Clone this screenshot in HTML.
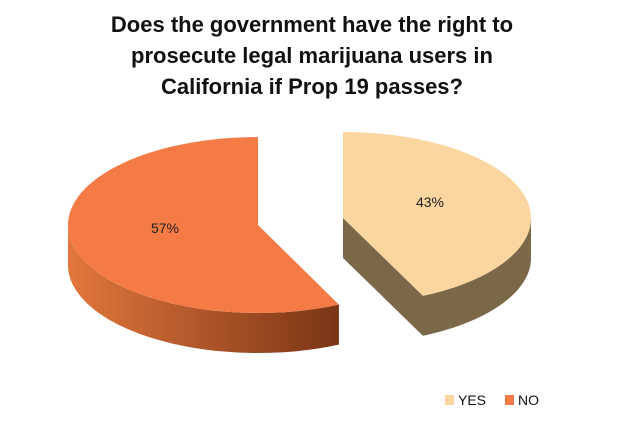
<!DOCTYPE html>
<html><head><meta charset="utf-8"><style>
body{margin:0;background:#fff;width:620px;height:443px;overflow:hidden;font-family:"Liberation Sans",sans-serif}
</style></head><body>
<svg width="620" height="443">
<defs>
<linearGradient id="noSide" x1="0" x2="1" y1="0" y2="0">
<stop offset="0" stop-color="#e2773d"/><stop offset="1" stop-color="#7a3515"/>
</linearGradient>
</defs>
<g font-weight="bold" font-size="22" fill="#111" text-anchor="middle">
<text x="312" y="32">Does the government have the right to</text>
<text x="312" y="63">prosecute legal marijuana users in</text>
<text x="312" y="94">California if Prop 19 passes?</text>
</g>
<g id="slices"></g>
<g font-size="14" fill="#111">
<rect x="445" y="395" width="9" height="10" fill="#fbd6a0"/>
<text x="458" y="405">YES</text>
<rect x="505" y="395" width="9" height="10" fill="#f47b45"/>
<text x="518" y="405">NO</text>
</g>
</svg>
<script>
const categories = ["YES", "NO"];
const values = [43, 57];
const labels = ["43%", "57%"];

const NS = "http://www.w3.org/2000/svg";
const g = document.getElementById("slices");
const total = values.reduce((a, b) => a + b, 0);
const noEnd = 90 + values[1] / total * 360; // NO goes CCW from top
const splitDeg = noEnd - 360;
const depth = 40;
function pt(c, t) { const r = t * Math.PI / 180; return [c.cx + c.rx * Math.cos(r), c.cy - c.ry * Math.sin(r)]; }
function add(d, fill, name) {
  const p = document.createElementNS(NS, "path");
  p.setAttribute("d", d); p.setAttribute("fill", fill);
  
  
  g.appendChild(p);
}
function arcPts(c, t1, t2) {
  let d = ""; const n = 60;
  for (let i = 0; i <= n; i++) {
    const t = t1 + (t2 - t1) * i / n; const [x, y] = pt(c, t);
    d += " L" + x.toFixed(1) + " " + y.toFixed(1);
  }
  return d;
}
function wall(c, t1, t2, fill, name) {
  const n = 60; let top = [], bot = [];
  for (let i = 0; i <= n; i++) { const t = t1 + (t2 - t1) * i / n; const [x, y] = pt(c, t); top.push([x, y]); bot.push([x, y + depth]); }
  let d = "M" + top.map(p => p[0].toFixed(1) + " " + p[1].toFixed(1)).join(" L");
  d += " L" + bot.reverse().map(p => p[0].toFixed(1) + " " + p[1].toFixed(1)).join(" L") + " Z";
  add(d, fill, name);
}
// NO slice (left)
const cNo = { cx: 258, cy: 225, rx: 190, ry: 88 };
wall(cNo, 180, noEnd, "url(#noSide)", "no-slice-side");
add("M" + cNo.cx + " " + cNo.cy + arcPts(cNo, 90, noEnd) + " Z", "#f47b45", "no-slice-top");
// YES slice (right)
const cYes = { cx: 343, cy: 218, rx: 188, ry: 86 };
const corner = pt(cYes, splitDeg);
add(`M${cYes.cx} ${cYes.cy} L${corner[0]} ${corner[1]} L${corner[0]} ${corner[1] + depth} L${cYes.cx} ${cYes.cy + depth} Z`, "#7a6848", "yes-slice-cut-face");
wall(cYes, splitDeg, 0, "#7a6848", "yes-slice-side");
add("M" + cYes.cx + " " + cYes.cy + arcPts(cYes, 90, splitDeg) + " Z", "#fbd6a0", "yes-slice-top");
// labels
const lp = [[430, 207], [165, 233]];
categories.forEach((c, i) => {
  const t = document.createElementNS(NS, "text");
  t.setAttribute("x", lp[i][0]); t.setAttribute("y", lp[i][1]);
  t.setAttribute("text-anchor", "middle"); t.setAttribute("font-size", "14"); t.setAttribute("fill", "#222");
  t.textContent = labels[i];
  
  
  g.appendChild(t);
});
</script>
</body></html>
